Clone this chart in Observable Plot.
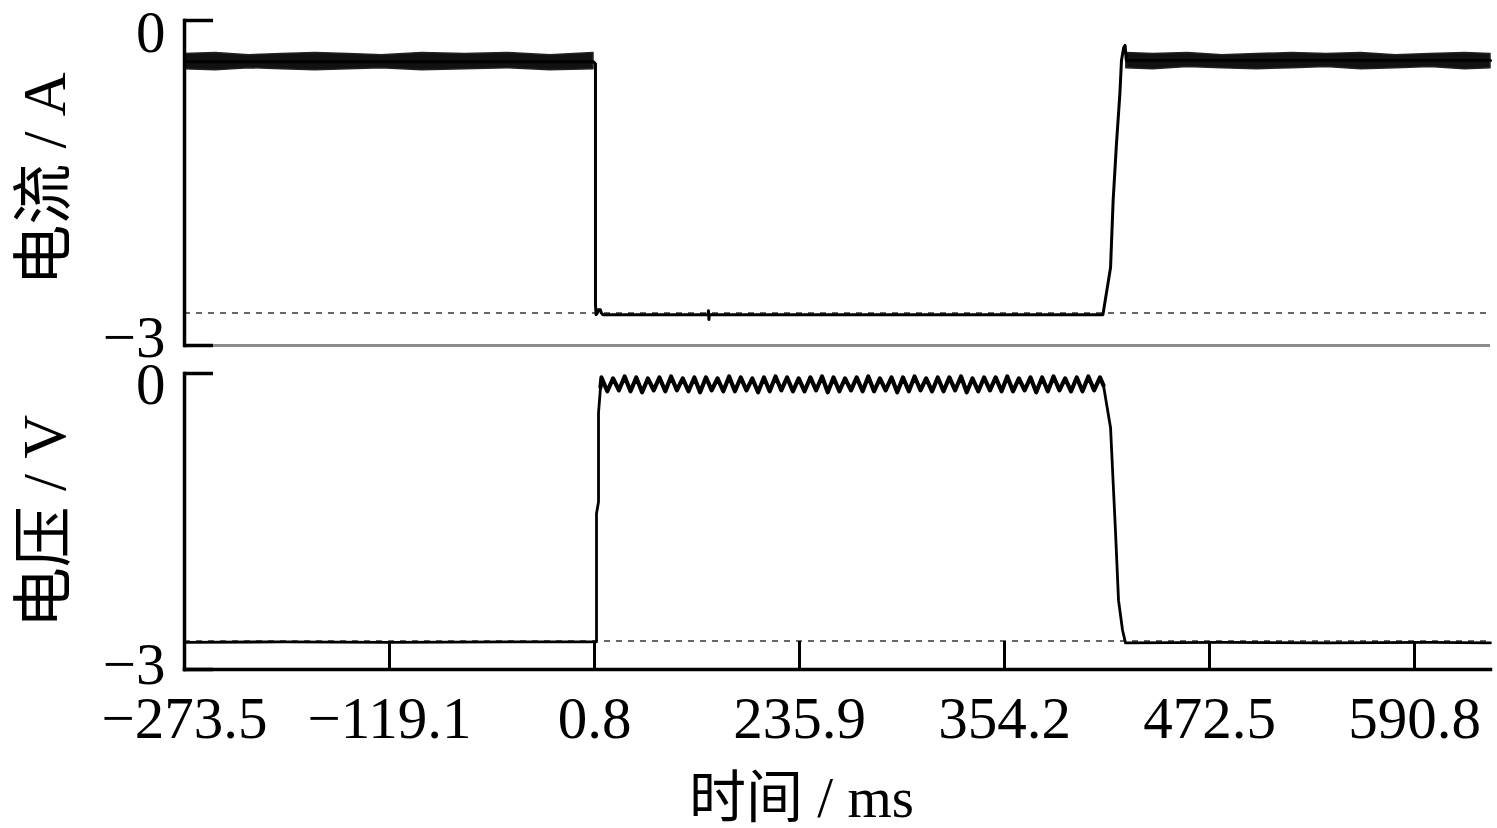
<!DOCTYPE html>
<html>
<head>
<meta charset="utf-8">
<script src="https://cdn.jsdelivr.net/npm/d3@7"></script>
<script src="https://cdn.jsdelivr.net/npm/@observablehq/plot@0.6"></script>
<style>
  html, body { margin: 0; padding: 0; background: #fff; }
  #chart { width: 1497px; height: 828px; position: relative; overflow: hidden; }
  #chart svg { display: block; max-width: none; }
</style>
</head>
<body>
<div id="chart"></div>
<script>
// ---- axis labels / ticks ----
const tickValues = [-273.5, -119.1, 0.8, 235.9, 354.2, 472.5, 590.8];
const tickLabels = ["−273.5", "−119.1", "0.8", "235.9", "354.2", "472.5", "590.8"];
const timeEnd = 634.7;
const yTicks = [0, -3];
const yTickLabels = ["0", "−3"];
const xTitle = "时间 / ms";
const currentTitle = "电流 / A";
const voltageTitle = "电压 / V";

// ---- reference (dashed) levels ----
const currentRef = -2.70;
const voltageRef = -2.71;

// ---- current: noisy on-state band (envelope) ----
const bandLeftT  = [-273.5, -250, -225, -200, -175, -150, -125, -100, -75, -50, -25, 0.2];
const bandLeftHi = [-0.31, -0.30, -0.32, -0.31, -0.30, -0.31, -0.32, -0.30, -0.31, -0.30, -0.32, -0.30];
const bandLeftLo = [-0.45, -0.46, -0.44, -0.45, -0.46, -0.45, -0.44, -0.46, -0.45, -0.44, -0.46, -0.45];
const bandRightT  = [424.5, 440, 460, 480, 500, 520, 540, 560, 580, 600, 620, 634.7];
const bandRightHi = [-0.30, -0.31, -0.30, -0.32, -0.31, -0.30, -0.31, -0.30, -0.32, -0.31, -0.30, -0.31];
const bandRightLo = [-0.44, -0.45, -0.43, -0.44, -0.45, -0.44, -0.43, -0.45, -0.44, -0.43, -0.45, -0.44];

// ---- current trace ----
const currentT = [-273.5, 0.2, 1.9, 1.9, 2.6, 4.0, 5.2, 7.5, 8.6, 10.5, 131.0, 131.5, 132.0, 132.5, 250.0, 411.0, 415.4, 416.9, 418.8, 420.8, 421.7, 423.0, 423.8, 424.5, 634.7];
const currentV = [-0.38, -0.38, -0.40, -2.62, -2.715, -2.70, -2.67, -2.67, -2.70, -2.715, -2.715, -2.68, -2.76, -2.715, -2.715, -2.715, -2.28, -1.66, -1.14, -0.67, -0.37, -0.25, -0.23, -0.37, -0.37];

// ---- voltage trace: off-state, rise, ripple, fall ----
const voltageRiseT = [-273.5, -200, -120, -40, 3.1, 3.1, 5.4, 5.4, 7.7];
const voltageRiseV = [-2.725, -2.72, -2.725, -2.72, -2.72, -1.42, -1.30, -0.40, -0.14];
const rippleT = [
  8.8, 15.5, 22.1, 28.8, 35.4, 42.1, 48.7, 55.4, 62.0, 68.7,
  75.3, 82.0, 88.6, 95.3, 102.0, 108.6, 115.3, 121.9, 128.6, 135.2,
  141.9, 148.5, 155.2, 161.8, 168.5, 175.1, 181.8, 188.4, 195.1, 201.7,
  208.4, 215.0, 221.7, 228.3, 235.0, 238.8, 242.2, 245.5, 248.9, 252.2,
  255.5, 258.9, 262.2, 265.6, 268.9, 272.3, 275.6, 278.9, 282.3, 285.6,
  289.0, 292.3, 295.6, 299.0, 302.3, 305.7, 309.0, 312.4, 315.7, 319.0,
  322.4, 325.7, 329.1, 332.4, 335.7, 339.1, 342.4, 345.8, 349.1, 352.5,
  355.8, 359.1, 362.5, 365.8, 369.2, 372.5, 375.9, 379.2, 382.5, 385.9,
  389.2, 392.6, 395.9, 399.2, 402.6, 405.9, 409.3
];
const rippleV = [
  -0.04, -0.18, -0.05, -0.17, -0.03, -0.18, -0.04, -0.19, -0.05, -0.17,
  -0.04, -0.18, -0.03, -0.17, -0.05, -0.18, -0.04, -0.19, -0.04, -0.17,
  -0.05, -0.18, -0.03, -0.18, -0.04, -0.17, -0.05, -0.19, -0.04, -0.18,
  -0.03, -0.17, -0.04, -0.18, -0.05, -0.18, -0.04, -0.17, -0.03, -0.19,
  -0.04, -0.18, -0.05, -0.17, -0.04, -0.18, -0.03, -0.18, -0.05, -0.17,
  -0.04, -0.19, -0.04, -0.18, -0.03, -0.17, -0.05, -0.18, -0.04, -0.18,
  -0.04, -0.17, -0.03, -0.19, -0.05, -0.18, -0.04, -0.17, -0.04, -0.18,
  -0.03, -0.18, -0.05, -0.17, -0.04, -0.19, -0.04, -0.18, -0.03, -0.17,
  -0.05, -0.18, -0.04, -0.18, -0.03, -0.17, -0.04
];
const voltageFallT = [411.3, 415.4, 418.3, 420.0, 422.3, 424.0, 480, 540, 600, 634.7];
const voltageFallV = [-0.12, -0.55, -1.62, -2.30, -2.60, -2.73, -2.725, -2.73, -2.725, -2.73];

// ---- build tables ----
const zipBand = (t, hi, lo) => t.map((d, i) => ({t: d, hi: hi[i], lo: lo[i]}));
const bandLeft = zipBand(bandLeftT, bandLeftHi, bandLeftLo);
const bandRight = zipBand(bandRightT, bandRightHi, bandRightLo);
const current = currentT.map((t, i) => ({t, v: currentV[i]}));
const rise = voltageRiseT.map((t, i) => ({t, v: voltageRiseV[i]}));
const ripple = rippleT.map((t, i) => ({t, v: rippleV[i]}));
const fall = voltageFallT.map((t, i) => ({t, v: voltageFallV[i]}));
const voltage = [...rise, ...ripple, ...fall];
const rippleSeg = [rise[rise.length - 1], ...ripple, fall[0]];

// ---- layout ----
const W = 1497;
const left = 184, right = 1490, step = 205;
const xDomain = [...tickValues, timeEnd];
const xRange = xDomain.map((d, i) => i < tickValues.length ? left + i * step : right);
const fontFamily = "'Liberation Serif', 'Times New Roman', 'Noto Sans CJK SC', serif";
const fs = 59;
const style = {fontFamily, fontSize: fs + "px", color: "#000", background: "#fff", overflow: "visible"};
const xScale = {type: "linear", domain: xDomain, range: xRange, axis: null};
const yScale = {domain: [-3, 0]};
const fmtY = d => yTickLabels[yTicks.indexOf(d)];
const fmtX = d => tickLabels[tickValues.indexOf(d)];

const topPlot = Plot.plot({
  width: W, height: 360,
  marginLeft: left, marginRight: W - right, marginTop: 20, marginBottom: 15,
  style,
  x: xScale,
  y: {...yScale, axis: null},
  marks: [
    Plot.ruleY([-3], {stroke: "#8c8c8c", strokeWidth: 3}),
    Plot.ruleY([currentRef], {stroke: "#666", strokeWidth: 2, strokeDasharray: "6,6"}),
    Plot.areaY(bandLeft, {x: "t", y1: "lo", y2: "hi", fill: "#111", stroke: "#222", strokeWidth: 1.5}),
    Plot.areaY(bandRight, {x: "t", y1: "lo", y2: "hi", fill: "#111", stroke: "#222", strokeWidth: 1.5}),
    Plot.line(current, {x: "t", y: "v", stroke: "#000", strokeWidth: 3}),
    Plot.frame({anchor: "left", stroke: "#000", strokeWidth: 3.5}),
    Plot.axisY(yTicks, {tickSize: -29, strokeWidth: 3.5, tickFormat: () => "", label: null}),
    Plot.axisY([0], {tickSize: 0, tickPadding: 19, dy: 13, tickFormat: fmtY, label: null}),
    Plot.axisY([-3], {tickSize: 0, tickPadding: 19, dy: -7, tickFormat: fmtY, label: null}),
    Plot.text([currentTitle], {frameAnchor: "left", textAnchor: "middle", dx: -139, dy: -4, rotate: -90, fontSize: 61, text: d => d})
  ]
});

const bottomPlot = Plot.plot({
  width: W, height: 468,
  marginLeft: left, marginRight: W - right, marginTop: 13, marginBottom: 159,
  style,
  x: xScale,
  y: {...yScale, axis: null},
  marks: [
    Plot.ruleY([voltageRef], {stroke: "#666", strokeWidth: 2, strokeDasharray: "6,6"}),
    Plot.line(voltage, {x: "t", y: "v", stroke: "#000", strokeWidth: 2.8}),
    Plot.line(rippleSeg, {x: "t", y: "v", stroke: "#000", strokeWidth: 4.2}),
    Plot.frame({anchor: "left", stroke: "#000", strokeWidth: 3.5}),
    Plot.frame({anchor: "bottom", stroke: "#000", strokeWidth: 3.5}),
    Plot.axisY(yTicks, {tickSize: -29, strokeWidth: 3.5, tickFormat: () => "", label: null}),
    Plot.axisY([0], {tickSize: 0, tickPadding: 19, dy: 12, tickFormat: fmtY, label: null}),
    Plot.axisY([-3], {tickSize: 0, tickPadding: 19, dy: -4, tickFormat: fmtY, label: null}),
    Plot.axisX(tickValues, {tickSize: -28, strokeWidth: 3, tickFormat: () => "", label: null}),
    Plot.axisX(tickValues, {tickSize: 0, tickPadding: 27, tickFormat: fmtX, label: null}),
    Plot.text([voltageTitle], {frameAnchor: "left", textAnchor: "middle", dx: -139, rotate: -90, fontSize: 61, text: d => d}),
    Plot.text([xTitle], {frameAnchor: "bottom", dy: 147, dx: -36, fontSize: 57, text: d => d})
  ]
});

const chart = document.getElementById("chart");
chart.appendChild(topPlot);
chart.appendChild(bottomPlot);
</script>
</body>
</html>
